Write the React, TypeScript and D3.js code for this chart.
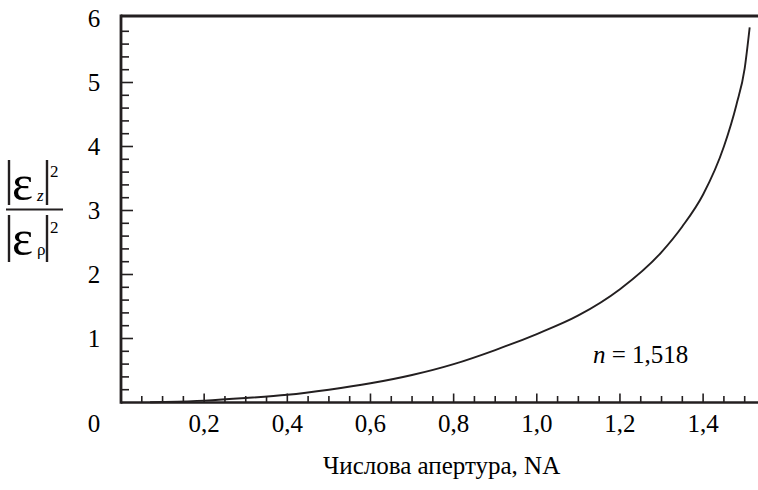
import React from "react";
import * as d3 from "d3";

const naValues = [0.07, 0.1, 0.2, 0.3, 0.4, 0.5, 0.6, 0.7, 0.8, 0.9, 1.0, 1.1, 1.2, 1.3, 1.35, 1.4, 1.45, 1.48, 1.5, 1.512];
const ratioValues = [0.003, 0.008, 0.03, 0.07, 0.12, 0.2, 0.3, 0.43, 0.6, 0.82, 1.07, 1.36, 1.77, 2.35, 2.75, 3.25, 4.0, 4.65, 5.22, 5.86];
const xTickLabels = ["0,2", "0,4", "0,6", "0,8", "1,0", "1,2", "1,4"];
const xTickValues = [0.2, 0.4, 0.6, 0.8, 1.0, 1.2, 1.4];
const yTickLabels = ["1", "2", "3", "4", "5", "6"];
const yTickValues = [1, 2, 3, 4, 5, 6];
const xTitle = "Числова апертура, NA";
const annotation = "1,518";

const W = 758;
const H = 490;
const INK = "#231f20";

export default function App() {
  const x = d3.scaleLinear().domain([0, 1.532]).range([121, 758]);
  const y = d3.scaleLinear().domain([0, 6]).range([402.5, 18.5]);

  const data = naValues.map((v, i) => [v, ratioValues[i]] as [number, number]);
  const line = d3
    .line<[number, number]>()
    .x((d) => x(d[0]))
    .y((d) => y(d[1]))
    .curve(d3.curveMonotoneX);

  const xMinor = d3.range(1, 31).map((i) => i * 0.05);
  const yMinor = d3.range(1, 30).map((i) => i * 0.2);

  const x0 = x(0);
  const y0 = y(0);
  const yTop = y(6) - 2.5;

  return (
    <div style={{ position: "absolute", left: 0, top: 0, background: "#fff" }}>
      <svg width={W} height={H}>
        <style>{`text { font-family: "Liberation Serif", "Times New Roman", Times; }`}</style>
        {xMinor.map((v, i) => {
          const major = (i + 1) % 4 === 0;
          return (
            <line key={"xt" + i} x1={x(v)} x2={x(v)} y1={y0} y2={y0 - (major ? 9 : 6.5)} stroke={INK} strokeWidth={1.6} />
          );
        })}
        {yMinor.map((v, i) => {
          const major = (i + 1) % 5 === 0;
          return (
            <line key={"yt" + i} x1={x0} x2={x0 + (major ? 12 : 8)} y1={y(v)} y2={y(v)} stroke={INK} strokeWidth={1.6} />
          );
        })}
        <line x1={x0} x2={W} y1={y0} y2={y0} stroke={INK} strokeWidth={2.6} />
        <line x1={x0} x2={W} y1={yTop} y2={yTop} stroke={INK} strokeWidth={3} />
        <line x1={x0} x2={x0} y1={yTop - 1.5} y2={y0 + 1.3} stroke={INK} strokeWidth={2.8} />
        <path d={line(data) || ""} fill="none" stroke={INK} strokeWidth={1.9} />
        {xTickValues.map((v, i) => (
          <text key={"xl" + i} x={x(v)} y={432} fontSize={25} textAnchor="middle">
            {xTickLabels[i]}
          </text>
        ))}
        <text x={94} y={432} fontSize={25} textAnchor="middle">0</text>
        {yTickValues.map((v, i) => (
          <text key={"yl" + i} x={94} y={y(v) + 8.5} fontSize={25} textAnchor="middle">
            {yTickLabels[i]}
          </text>
        ))}
        <text x={323} y={474} fontSize={25}>{xTitle}</text>
        <text x={593} y={363} fontSize={25}>
          <tspan fontStyle="italic">n</tspan>
          <tspan> = {annotation}</tspan>
        </text>
        <line x1={9} x2={9} y1={160} y2={205} stroke={INK} strokeWidth={2.4} />
        <line x1={47} x2={47} y1={160} y2={205} stroke={INK} strokeWidth={2.4} />
        <text x={12} y={200} fontSize={50}>ε</text>
        <text x={37} y={201} fontSize={17} fontStyle="italic">z</text>
        <text x={50} y={177} fontSize={17}>2</text>
        <line x1={6} x2={63} y1={209.5} y2={209.5} stroke={INK} strokeWidth={2} />
        <line x1={9} x2={9} y1={215} y2={262} stroke={INK} strokeWidth={2.4} />
        <line x1={47} x2={47} y1={215} y2={262} stroke={INK} strokeWidth={2.4} />
        <text x={12} y={255} fontSize={50}>ε</text>
        <text x={37} y={255} fontSize={17}>ρ</text>
        <text x={50} y={233} fontSize={17}>2</text>
      </svg>
    </div>
  );
}
